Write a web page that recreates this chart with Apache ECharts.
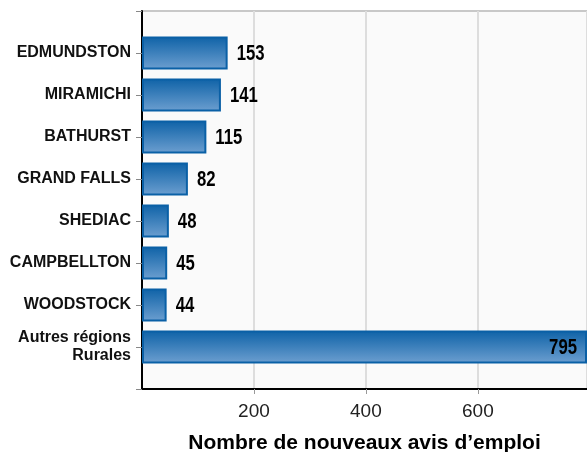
<!DOCTYPE html>
<html>
<head>
<meta charset="utf-8">
<script src="https://cdn.jsdelivr.net/npm/echarts@6/dist/echarts.min.js"></script>
<style>
html,body{margin:0;padding:0;background:#fff;}
#chart{width:587px;height:452px;}
</style>
</head>
<body>
<div id="chart"></div>
<script>
var categories = ['EDMUNDSTON', 'MIRAMICHI', 'BATHURST', 'GRAND FALLS', 'SHEDIAC', 'CAMPBELLTON', 'WOODSTOCK', 'Autres régions\nRurales'];
var values = [153, 141, 115, 82, 48, 45, 44, 795];
var xTicks = [200, 400, 600];
var xTitle = 'Nombre de nouveaux avis d’emploi';

var padCats = [''].concat(categories).concat(['']);
var maxVal = Math.max.apply(null, values);
var padData = ['-'].concat(values).concat(['-']);
var labelData = [];
values.forEach(function (v, i) { labelData.push([v, i + 1]); });

var chart = echarts.init(document.getElementById('chart'), null, { renderer: 'canvas' });
chart.setOption({
  animation: false,
  backgroundColor: '#ffffff',
  grid: {
    left: 142, right: 0, top: 11, bottom: 63,
    containLabel: false,
    outerBoundsMode: 'none',
    show: true, backgroundColor: '#fafafa', borderColor: '#c8c8c8', borderWidth: 2
  },
  xAxis: {
    type: 'value',
    min: 0, max: maxVal, interval: 200,
    name: xTitle,
    nameLocation: 'middle',
    nameGap: 44,
    nameTextStyle: { fontFamily: 'Liberation Sans', fontWeight: 'bold', fontSize: 21, color: '#000' },
    axisLine: { show: true, lineStyle: { color: '#000', width: 2 } },
    axisTick: { show: true, length: 5, lineStyle: { color: '#999', width: 1 } },
    axisLabel: {
      showMinLabel: false, showMaxLabel: false,
      margin: 13,
      fontFamily: 'Liberation Sans', fontSize: 19, color: '#222',
      formatter: function (v) { return xTicks.indexOf(v) >= 0 ? String(v) : ''; }
    },
    splitLine: { show: true, lineStyle: { color: '#dddddd', width: 2 } }
  },
  yAxis: {
    type: 'category',
    data: padCats,
    inverse: true,
    boundaryGap: false,
    axisLine: { show: true, onZero: false, lineStyle: { color: '#000', width: 2 } },
    axisTick: { show: true, length: 6, lineStyle: { color: '#888', width: 1 } },
    axisLabel: {
      margin: 11, interval: 0,
      fontFamily: 'Liberation Sans', fontWeight: 'bold', fontSize: 16, color: '#111',
      lineHeight: 18, align: 'right', padding: [4, 0, 0, 0]
    },
    splitLine: { show: false }
  },
  series: [{
    type: 'bar',
    data: padData,
    barWidth: 33,
    itemStyle: {
      color: new echarts.graphic.LinearGradient(0, 0, 0, 1, [
        { offset: 0, color: '#0e62a7' },
        { offset: 1, color: '#6d9fd0' }
      ]),
      borderColor: '#0a60a6',
      borderWidth: 2
    }
  }, {
    type: 'custom',
    data: labelData,
    encode: { x: 0, y: 1 },
    z: 10,
    renderItem: function (params, api) {
      var v = api.value(0);
      var p = api.coord([v, api.value(1)]);
      var inside = v === maxVal;
      return {
        type: 'text',
        x: inside ? p[0] - 10 : p[0] + 9,
        y: p[1] + 1,
        scaleX: 0.76,
        style: {
          text: String(v),
          fill: '#000',
          font: 'bold 22px "Liberation Sans"',
          align: inside ? 'right' : 'left',
          verticalAlign: 'middle'
        }
      };
    }
  }]
});
</script>
</body>
</html>
